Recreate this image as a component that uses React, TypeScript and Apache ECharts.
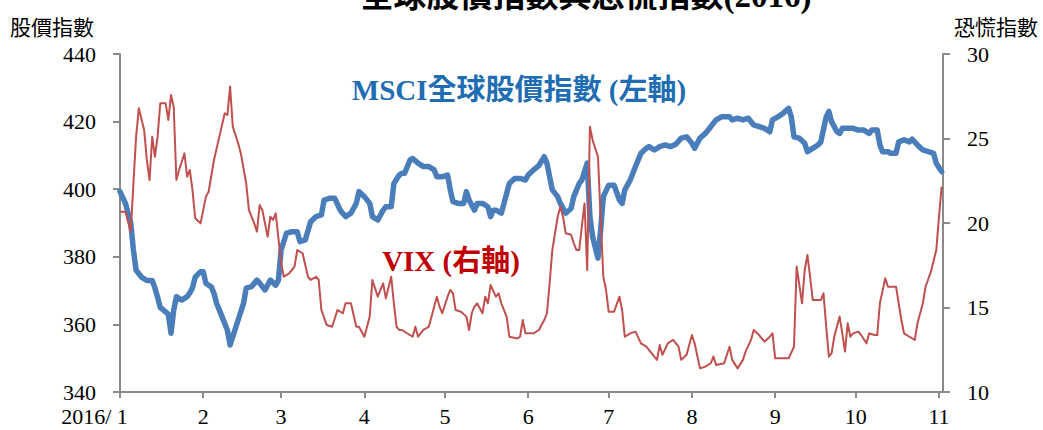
import { useEffect, useRef } from 'react';
import * as echarts from 'echarts';

// MSCI All Country World index, daily closes (left axis)
const msciSeries: [string, number][] = [
  ['2016-01-01', 399.3], ['2016-01-03', 395.9], ['2016-01-05', 390], ['2016-01-06', 382],
  ['2016-01-07', 376], ['2016-01-09', 374], ['2016-01-11', 373], ['2016-01-13', 373],
  ['2016-01-14', 370.8], ['2016-01-15', 368], ['2016-01-16', 365], ['2016-01-18', 363.7],
  ['2016-01-19', 363], ['2016-01-20', 357.4], ['2016-01-21', 364.2], ['2016-01-22', 368.2],
  ['2016-01-24', 367.2], ['2016-01-26', 368.2], ['2016-01-27', 369.3], ['2016-01-28', 370.8],
  ['2016-01-29', 374], ['2016-01-31', 375.6], ['2016-02-01', 375.6], ['2016-02-02', 372.1],
  ['2016-02-04', 371.1], ['2016-02-05', 369.2], ['2016-02-06', 366.2], ['2016-02-08', 362.3],
  ['2016-02-10', 358.3], ['2016-02-11', 353.9], ['2016-02-12', 356.4], ['2016-02-14', 361.3],
  ['2016-02-16', 366.2], ['2016-02-17', 370.7], ['2016-02-19', 371.2], ['2016-02-21', 373.1],
  ['2016-02-22', 372.2], ['2016-02-24', 370.2], ['2016-02-26', 373.1], ['2016-02-28', 371.6],
  ['2016-02-29', 373.1], ['2016-03-01', 382], ['2016-03-03', 387], ['2016-03-05', 387.4],
  ['2016-03-07', 387.4], ['2016-03-08', 384.5], ['2016-03-10', 385], ['2016-03-12', 390.4],
  ['2016-03-14', 391.9], ['2016-03-16', 392.4], ['2016-03-17', 396.8], ['2016-03-19', 397.3],
  ['2016-03-21', 397.3], ['2016-03-23', 393.8], ['2016-03-25', 391.9], ['2016-03-27', 392.9],
  ['2016-03-29', 395.8], ['2016-03-30', 399.3], ['2016-04-01', 397.8], ['2016-04-03', 395.8],
  ['2016-04-04', 391.9], ['2016-04-06', 390.9], ['2016-04-08', 393.8], ['2016-04-09', 394.8],
  ['2016-04-11', 394.8], ['2016-04-12', 401.7], ['2016-04-14', 404.2], ['2016-04-15', 404.7],
  ['2016-04-16', 404.7], ['2016-04-18', 408.6], ['2016-04-19', 409.1], ['2016-04-21', 407.7],
  ['2016-04-23', 406.7], ['2016-04-25', 406.7], ['2016-04-27', 405.7], ['2016-04-28', 403.7],
  ['2016-04-30', 403.7], ['2016-05-02', 404.2], ['2016-05-03', 399.8], ['2016-05-04', 396.3],
  ['2016-05-06', 395.8], ['2016-05-08', 395.8], ['2016-05-09', 399.3], ['2016-05-10', 396.8],
  ['2016-05-12', 393.8], ['2016-05-13', 395.8], ['2016-05-15', 395.8], ['2016-05-17', 394.8],
  ['2016-05-18', 391.9], ['2016-05-19', 393.8], ['2016-05-20', 393.8], ['2016-05-22', 392.9],
  ['2016-05-23', 395.8], ['2016-05-25', 401.7], ['2016-05-27', 403.2], ['2016-05-29', 403.2],
  ['2016-05-31', 402.7], ['2016-06-01', 404.2], ['2016-06-03', 405.7], ['2016-06-05', 407],
  ['2016-06-07', 409.6], ['2016-06-08', 407.7], ['2016-06-09', 403.7], ['2016-06-10', 399.8],
  ['2016-06-12', 397.8], ['2016-06-13', 395.8], ['2016-06-15', 392.9], ['2016-06-17', 394.3],
  ['2016-06-18', 397.8], ['2016-06-20', 401.7], ['2016-06-21', 402.7], ['2016-06-23', 407.7],
  ['2016-06-24', 391.9], ['2016-06-25', 386], ['2016-06-27', 379.6], ['2016-06-28', 387.9],
  ['2016-06-29', 397.8], ['2016-07-01', 401.2], ['2016-07-03', 401.2], ['2016-07-05', 396.8],
  ['2016-07-06', 395.8], ['2016-07-07', 399.8], ['2016-07-09', 402.7], ['2016-07-11', 406.7],
  ['2016-07-13', 410.6], ['2016-07-15', 412.1], ['2016-07-16', 412.6], ['2016-07-18', 411.6],
  ['2016-07-20', 412.6], ['2016-07-22', 413.1], ['2016-07-24', 412.6], ['2016-07-26', 413.3],
  ['2016-07-28', 415.1], ['2016-07-30', 415.5], ['2016-08-01', 413.6], ['2016-08-02', 412.1],
  ['2016-08-04', 415.1], ['2016-08-06', 416.5], ['2016-08-08', 418.5], ['2016-08-10', 420.5],
  ['2016-08-12', 421.4], ['2016-08-15', 421.4], ['2016-08-16', 420.5], ['2016-08-18', 421],
  ['2016-08-20', 420.5], ['2016-08-22', 421], ['2016-08-24', 419], ['2016-08-26', 418.5],
  ['2016-08-28', 418], ['2016-08-30', 417], ['2016-08-31', 420.5], ['2016-09-02', 421.4],
  ['2016-09-04', 422.5], ['2016-09-06', 423.9], ['2016-09-07', 421.4], ['2016-09-08', 415.5],
  ['2016-09-10', 415.1], ['2016-09-12', 413.6], ['2016-09-13', 411.1], ['2016-09-15', 412.1],
  ['2016-09-17', 413.1], ['2016-09-18', 414], ['2016-09-20', 421.4], ['2016-09-21', 423],
  ['2016-09-22', 420], ['2016-09-24', 417], ['2016-09-25', 416.5], ['2016-09-26', 418],
  ['2016-09-28', 418], ['2016-09-30', 418], ['2016-10-02', 417.5], ['2016-10-04', 417.5],
  ['2016-10-06', 416.5], ['2016-10-07', 417.5], ['2016-10-09', 417.5], ['2016-10-10', 413.1],
  ['2016-10-11', 411.1], ['2016-10-13', 411.1], ['2016-10-14', 410.6], ['2016-10-16', 410.6],
  ['2016-10-17', 414], ['2016-10-19', 414.6], ['2016-10-21', 414], ['2016-10-22', 414.8],
  ['2016-10-24', 413.1], ['2016-10-26', 411.6], ['2016-10-28', 411.1], ['2016-10-30', 410.6],
  ['2016-10-31', 407.7], ['2016-11-02', 405.2],
];

// CBOE VIX volatility index, daily closes (right axis)
const vixSeries: [string, number][] = [
  ['2016-01-01', 20.67], ['2016-01-03', 20.67], ['2016-01-05', 19.49], ['2016-01-06', 22.35],
  ['2016-01-07', 25.11], ['2016-01-08', 26.79], ['2016-01-10', 25.5], ['2016-01-11', 23.73],
  ['2016-01-12', 22.54], ['2016-01-13', 25.11], ['2016-01-14', 23.92], ['2016-01-15', 25.11],
  ['2016-01-16', 27.08], ['2016-01-18', 27.08], ['2016-01-19', 26.1], ['2016-01-20', 27.57],
  ['2016-01-21', 26.88], ['2016-01-22', 22.54], ['2016-01-23', 23.14], ['2016-01-25', 24.12],
  ['2016-01-26', 22.74], ['2016-01-27', 23.14], ['2016-01-28', 21.95], ['2016-01-29', 20.28],
  ['2016-01-31', 19.98], ['2016-02-02', 21.56], ['2016-02-03', 21.85], ['2016-02-05', 23.73],
  ['2016-02-07', 25.11], ['2016-02-09', 26.49], ['2016-02-10', 26.39], ['2016-02-11', 28.07],
  ['2016-02-12', 25.7], ['2016-02-14', 24.72], ['2016-02-15', 24.12], ['2016-02-17', 22.35],
  ['2016-02-18', 20.77], ['2016-02-20', 19.98], ['2016-02-21', 19.49], ['2016-02-22', 21.06],
  ['2016-02-23', 20.77], ['2016-02-25', 19.19], ['2016-02-26', 20.37], ['2016-02-27', 20.18],
  ['2016-02-28', 20.57], ['2016-03-01', 17.62], ['2016-03-02', 16.82], ['2016-03-04', 17.02],
  ['2016-03-06', 17.42], ['2016-03-07', 18.4], ['2016-03-09', 18.21], ['2016-03-11', 16.82],
  ['2016-03-12', 16.63], ['2016-03-14', 16.82], ['2016-03-15', 16.63], ['2016-03-16', 14.85],
  ['2016-03-18', 13.96], ['2016-03-20', 13.86], ['2016-03-22', 14.85], ['2016-03-24', 14.66],
  ['2016-03-25', 15.25], ['2016-03-27', 15.25], ['2016-03-29', 13.86], ['2016-03-30', 13.86],
  ['2016-04-01', 13.27], ['2016-04-02', 13.86], ['2016-04-03', 14.46], ['2016-04-04', 16.63],
  ['2016-04-06', 15.64], ['2016-04-07', 16.04], ['2016-04-08', 16.43], ['2016-04-09', 15.54],
  ['2016-04-11', 16.82], ['2016-04-12', 15.25], ['2016-04-13', 13.86], ['2016-04-14', 13.67],
  ['2016-04-15', 13.67], ['2016-04-19', 13.27], ['2016-04-20', 13.86], ['2016-04-21', 13.27],
  ['2016-04-23', 13.67], ['2016-04-25', 13.86], ['2016-04-27', 15.05], ['2016-04-28', 15.64],
  ['2016-04-29', 15.05], ['2016-04-30', 14.66], ['2016-05-02', 15.64], ['2016-05-03', 16.04],
  ['2016-05-04', 15.84], ['2016-05-05', 14.85], ['2016-05-07', 14.75], ['2016-05-09', 14.46],
  ['2016-05-10', 13.67], ['2016-05-11', 14.66], ['2016-05-12', 15.05], ['2016-05-13', 15.25],
  ['2016-05-15', 14.66], ['2016-05-16', 15.64], ['2016-05-17', 15.25], ['2016-05-18', 16.33],
  ['2016-05-20', 15.64], ['2016-05-21', 15.84], ['2016-05-22', 15.25], ['2016-05-24', 14.46],
  ['2016-05-25', 13.27], ['2016-05-28', 13.17], ['2016-05-29', 13.27], ['2016-05-30', 14.26],
  ['2016-05-31', 13.47], ['2016-06-03', 13.47], ['2016-06-05', 13.67], ['2016-06-07', 14.26],
  ['2016-06-08', 14.66], ['2016-06-09', 16.43], ['2016-06-10', 18.4], ['2016-06-12', 20.37],
  ['2016-06-13', 20.96], ['2016-06-14', 20.37], ['2016-06-15', 19.39], ['2016-06-17', 19.3],
  ['2016-06-18', 18.8], ['2016-06-19', 18.4], ['2016-06-20', 18.4], ['2016-06-21', 19.78],
  ['2016-06-22', 21.16], ['2016-06-23', 17.22], ['2016-06-24', 25.7], ['2016-06-25', 24.91],
  ['2016-06-27', 23.92], ['2016-06-28', 20.37], ['2016-06-29', 16.82], ['2016-06-30', 16.04],
  ['2016-07-01', 14.75], ['2016-07-03', 14.75], ['2016-07-05', 15.64], ['2016-07-06', 14.85],
  ['2016-07-07', 13.27], ['2016-07-09', 13.47], ['2016-07-11', 13.57], ['2016-07-13', 12.88],
  ['2016-07-15', 12.68], ['2016-07-16', 12.49], ['2016-07-18', 12.09], ['2016-07-19', 11.9],
  ['2016-07-20', 12.78], ['2016-07-21', 12.2], ['2016-07-23', 12.88], ['2016-07-25', 13.08],
  ['2016-07-27', 12.68], ['2016-07-28', 11.9], ['2016-07-30', 12.2], ['2016-08-01', 13.37],
  ['2016-08-02', 12.88], ['2016-08-04', 11.4], ['2016-08-06', 11.5], ['2016-08-08', 11.7],
  ['2016-08-09', 12.1], ['2016-08-10', 11.6], ['2016-08-13', 11.7], ['2016-08-15', 12.68],
  ['2016-08-16', 11.9], ['2016-08-18', 11.4], ['2016-08-20', 11.9], ['2016-08-21', 12.4],
  ['2016-08-23', 13.08], ['2016-08-24', 13.67], ['2016-08-26', 13.37], ['2016-08-28', 12.98],
  ['2016-08-30', 13.27], ['2016-08-31', 13.47], ['2016-09-01', 11.99], ['2016-09-03', 11.99],
  ['2016-09-06', 11.99], ['2016-09-08', 12.68], ['2016-09-09', 17.42], ['2016-09-11', 15.25],
  ['2016-09-12', 17.22], ['2016-09-13', 18.11], ['2016-09-14', 16.82], ['2016-09-15', 15.44],
  ['2016-09-18', 15.44], ['2016-09-19', 15.84], ['2016-09-20', 13.86], ['2016-09-21', 12.09],
  ['2016-09-22', 12.29], ['2016-09-23', 13.27], ['2016-09-25', 14.46], ['2016-09-26', 13.47],
  ['2016-09-27', 12.39], ['2016-09-28', 14.07], ['2016-09-29', 13.27], ['2016-09-30', 13.47],
  ['2016-10-02', 13.57], ['2016-10-03', 13.37], ['2016-10-05', 12.88], ['2016-10-06', 13.47],
  ['2016-10-08', 13.37], ['2016-10-09', 13.37], ['2016-10-10', 15.25], ['2016-10-12', 16.73],
  ['2016-10-13', 16.23], ['2016-10-16', 16.23], ['2016-10-17', 15.25], ['2016-10-18', 14.26],
  ['2016-10-19', 13.47], ['2016-10-21', 13.27], ['2016-10-23', 13.08], ['2016-10-24', 14.07],
  ['2016-10-26', 15.25], ['2016-10-27', 16.23], ['2016-10-29', 17.12], ['2016-10-31', 18.4],
  ['2016-11-01', 20.37], ['2016-11-02', 22.15],
];

const leftTicks = [340, 360, 380, 400, 420, 440];
const rightTicks = [10, 15, 20, 25, 30];
const monthLabels = ['1', '2', '3', '4', '5', '6', '7', '8', '9', '10', '11'];
const yearPrefix = '2016/ ';
const dateRange = ['2016-01-01T00:00:00', '2016-11-02T12:00:00'];

const chartTitle = '全球股價指數與恐慌指數(2016)';
const leftAxisTitle = '股價指數';
const rightAxisTitle = '恐慌指數';
const msciLabel = 'MSCI全球股價指數 (左軸)';
const vixLabel = 'VIX (右軸)';

const SERIF = '"Liberation Serif", "Noto Sans CJK TC", serif';
const AXIS_GRAY = '#8a8a8a';

export default function App() {
  const ref = useRef<HTMLDivElement>(null);

  useEffect(() => {
    if (!ref.current) return;
    const chart = echarts.init(ref.current, undefined, { renderer: 'svg' });

    const labelFont = { fontFamily: SERIF, fontSize: 22, color: '#000' };
    const axisLine = { show: true, lineStyle: { color: AXIS_GRAY, width: 2 } };
    const axisTick = { show: true, length: 7, lineStyle: { color: AXIS_GRAY, width: 2 } };

    chart.setOption({
      animation: false,
      backgroundColor: '#ffffff',
      grid: { left: 120, right: 100, top: 54, height: 338, outerBoundsMode: 'none', containLabel: false },
      xAxis: {
        type: 'time',
        min: new Date(dateRange[0]).getTime(),
        max: new Date(dateRange[1]).getTime(),
        splitNumber: 10,
        axisLine,
        axisTick: { ...axisTick, length: 6 },
        minorTick: { show: false },
        splitLine: { show: false },
        axisLabel: {
          ...labelFont,
          margin: 13,
          hideOverlap: false,
          formatter: (value: number) => {
            const d = new Date(value);
            if (d.getDate() !== 1) return '';
            const m = d.getMonth();
            const text = monthLabels[m] ?? '';
            return m === 0 ? `{first|${yearPrefix}${text}}` : text;
          },
          rich: {
            first: { ...labelFont, padding: [0, 51, 0, 0] },
          },
        },
      },
      yAxis: [
        {
          type: 'value',
          position: 'left',
          min: leftTicks[0],
          max: leftTicks[leftTicks.length - 1],
          interval: leftTicks[1] - leftTicks[0],
          axisLine,
          axisTick,
          splitLine: { show: false },
          axisLabel: { ...labelFont, margin: 24 },
        },
        {
          type: 'value',
          position: 'right',
          min: rightTicks[0],
          max: rightTicks[rightTicks.length - 1],
          interval: rightTicks[1] - rightTicks[0],
          axisLine,
          axisTick,
          splitLine: { show: false },
          axisLabel: { ...labelFont, margin: 24 },
        },
      ],
      series: [
        {
          name: msciLabel,
          type: 'line',
          yAxisIndex: 0,
          data: msciSeries,
          showSymbol: false,
          lineStyle: { color: '#4a7ebb', width: 5.5, cap: 'round', join: 'round' },
          z: 2,
        },
        {
          name: vixLabel,
          type: 'line',
          yAxisIndex: 1,
          data: vixSeries,
          showSymbol: false,
          lineStyle: { color: '#c0504d', width: 2, join: 'round' },
          z: 3,
        },
      ],
      graphic: [
        {
          type: 'text',
          x: 586,
          y: 12,
          style: {
            text: chartTitle,
            font: `bold 33px ${SERIF}`,
            fill: '#000',
            textAlign: 'center',
            textVerticalAlign: 'bottom',
          },
        },
        {
          type: 'text',
          x: 10,
          y: 26,
          style: {
            text: leftAxisTitle,
            font: '21px "Noto Sans CJK TC"',
            fill: '#000',
            textAlign: 'left',
            textVerticalAlign: 'middle',
          },
        },
        {
          type: 'text',
          x: 1038,
          y: 26,
          style: {
            text: rightAxisTitle,
            font: '21px "Noto Sans CJK TC"',
            fill: '#000',
            textAlign: 'right',
            textVerticalAlign: 'middle',
          },
        },
        {
          type: 'text',
          x: 519,
          y: 90,
          style: {
            text: msciLabel,
            font: `bold 29px ${SERIF}`,
            fill: '#1f6db3',
            textAlign: 'center',
            textVerticalAlign: 'middle',
          },
        },
        {
          type: 'text',
          x: 451,
          y: 261,
          style: {
            text: vixLabel,
            font: `bold 29px ${SERIF}`,
            fill: '#c00000',
            textAlign: 'center',
            textVerticalAlign: 'middle',
          },
        },
      ],
    });

    return () => chart.dispose();
  }, []);

  return (
    <div
      ref={ref}
      style={{ position: 'fixed', left: 0, top: 0, width: 1043, height: 430, background: '#fff' }}
    />
  );
}
